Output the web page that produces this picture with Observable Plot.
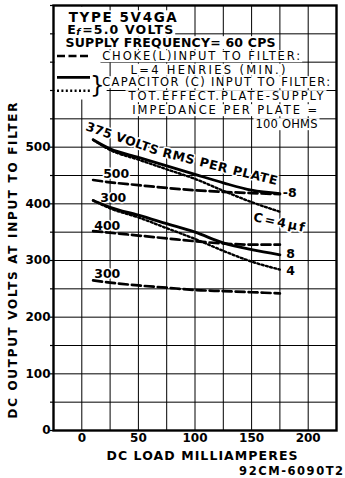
<!DOCTYPE html>
<html><head><meta charset="utf-8">
<script src="https://cdn.jsdelivr.net/npm/d3@7"></script>
<script src="https://cdn.jsdelivr.net/npm/@observablehq/plot@0.6"></script>
<style>
html,body{margin:0;padding:0;background:#fff;}
#chart svg{display:block;background:#fff;}
</style></head><body><div id="chart"></div>
<script>
// ---- data (DC load mA vs DC output volts) ----
const loadMA = [10, 25, 50, 75, 100, 125, 150, 175];
const cap8_375 = [513, 497, 482, 467, 452, 437, 424, 418];
const cap4_375 = [513, 495, 478, 461, 444, 423, 403, 386];
const choke_500 = [442, 438, 433, 428, 424, 421, 419, 417];
const cap8_300 = [406, 394, 380, 365, 350, 331, 319, 310];
const cap4_300 = [406, 392, 376, 357, 338, 317, 298, 284];
const choke_400 = [352, 349, 344, 339, 334, 330, 328, 328];
const choke_300 = [265, 261, 256, 252, 248, 246, 244, 242];

const xTicks = [0, 50, 100, 150, 200];
const yTicks = [0, 100, 200, 300, 400, 500];

// curve annotations (anchored in data units)
const curveLabels = ["375 VOLTS", "RMS PER PLATE", "C=4µf", "500", "300", "400", "300", "-8", "8", "4"];
const curveLabelMA = [35.7, 122, 174.3, 30.4, 27.8, 22.5, 22.5, 177.5, 180.5, 180.5];
const curveLabelV = [515, 465, 367, 453.5, 411, 361.7, 277, 420, 310.6, 280.6];

const legendTitle = ["TYPE 5V4GA", "E", "f", "=5.0 VOLTS", "SUPPLY FREQUENCY= 60 CPS"];
const legendBody = ["CHOKE(L)INPUT TO FILTER:", "L=4 HENRIES (MIN.)", "CAPACITOR (C) INPUT TO FILTER:",
  "TOT.EFFECT.PLATE-SUPPLY", "IMPEDANCE PER PLATE =", "100 OHMS"];

const series = [
  {key: "c8_375", kind: "solid", v: cap8_375},
  {key: "c4_375", kind: "dotted", v: cap4_375},
  {key: "l_500", kind: "dashed", v: choke_500},
  {key: "c8_300", kind: "solid", v: cap8_300},
  {key: "c4_300", kind: "dotted", v: cap4_300},
  {key: "l_400", kind: "dashed", v: choke_400},
  {key: "l_300", kind: "dashed", v: choke_300}
];
const rows = series.flatMap(s => loadMA.map((m, i) => ({key: s.key, kind: s.kind, ma: m, v: s.v[i]})));
const labels = curveLabels.map((t, i) => ({t, ma: curveLabelMA[i], v: curveLabelV[i]}));

const FONT = "'DejaVu Sans', sans-serif";
const W = 345, H = 478, ML = 53, MT = 5, MR = 9, MB = 48;

function lt(str, x, y, size, weight, style) {
  return Plot.text([str], {text: d => d, frameAnchor: "top-left", dx: x - ML, dy: y - MT,
    textAnchor: "start", lineAnchor: "middle", fontSize: size, fontWeight: weight || "normal",
    fontStyle: style || "normal", fill: "black"});
}

const labelStyle = {x: "ma", y: "v", text: "t", fontSize: 12.5, fontWeight: "bold", fill: "black",
  stroke: "white", strokeWidth: 3, paintOrder: "stroke", strokeLinejoin: "round"};

const chart = Plot.plot({
  width: W, height: H,
  marginLeft: ML, marginTop: MT, marginRight: MR, marginBottom: MB,
  style: {fontFamily: FONT, background: "white", color: "black"},
  x: {domain: [-25, 225], axis: null},
  y: {domain: [0, 750], axis: null},
  marks: [
    Plot.gridX(d3.range(0, 201, 25), {stroke: "black", strokeOpacity: 1, strokeWidth: 1}),
    Plot.gridY(d3.range(50, 701, 50), {stroke: "black", strokeOpacity: 1, strokeWidth: 1}),
    // legend text
    lt(legendTitle[0], 68.3, 17.5, 13.5, "bold"),
    lt(legendTitle[1], 66.7, 29.5, 12.5, "bold"),
    lt(legendTitle[2], 75.8, 31.5, 9.5, "bold", "italic"),
    lt(legendTitle[3], 81.7, 29.5, 12.5, "bold"),
    lt(legendTitle[4], 65, 42.7, 12.5, "bold"),
    lt(legendBody[0], 101.7, 56, 11.5),
    lt(legendBody[1], 130, 69.5, 11.5),
    lt(legendBody[2], 101.7, 82, 11.5),
    lt(legendBody[3], 128, 96, 11.5),
    lt(legendBody[4], 131.7, 110, 11.5),
    lt(legendBody[5], 255, 124, 11.5),
    lt("}", 89.5, 85, 23),
    // curve labels
    Plot.text(labels.slice(0, 1), {...labelStyle, rotate: 19}),
    Plot.text(labels.slice(1, 2), {...labelStyle, rotate: 14}),
    Plot.text(labels.slice(2, 3), {...labelStyle, rotate: 12}),
    Plot.text(labels.slice(3, 7), {...labelStyle}),
    Plot.text(labels.slice(7), {...labelStyle, textAnchor: "start"}),
    // curves
    Plot.line(rows.filter(d => d.kind === "dashed"), {x: "ma", y: "v", z: "key", stroke: "black",
      strokeWidth: 2.7, strokeDasharray: "9,4", curve: "monotone-x"}),
    Plot.line(rows.filter(d => d.kind === "dotted"), {x: "ma", y: "v", z: "key", stroke: "black",
      strokeWidth: 2.4, strokeDasharray: "2,2.4", curve: "monotone-x"}),
    Plot.line(rows.filter(d => d.kind === "solid"), {x: "ma", y: "v", z: "key", stroke: "black",
      strokeWidth: 2.8, curve: "monotone-x"}),
    Plot.frame({stroke: "black", strokeWidth: 2.4}),
    // axes
    Plot.axisY(d3.range(0, 751, 50), {tickSize: 3, tickFormat: () => "", label: null, strokeWidth: 1.2}),
    Plot.axisY(yTicks, {tickSize: 0, tickPadding: 3, fontSize: 12, fontWeight: "bold", label: null}),
    Plot.axisX(xTicks, {tickSize: 0, tickPadding: 3, fontSize: 12, fontWeight: "bold", label: null}),
    Plot.text(["DC LOAD MILLIAMPERES"], {text: d => d, frameAnchor: "bottom", dx: 7, dy: 25,
      fontSize: 12.5, fontWeight: "bold", lineAnchor: "middle"}),
    Plot.text(["DC OUTPUT VOLTS AT INPUT TO FILTER"], {text: d => d, frameAnchor: "left", dx: 12.5 - ML, dy: 42.5,
      rotate: -90, fontSize: 12, fontWeight: "bold", textAnchor: "middle", lineAnchor: "middle"}),
    Plot.text(["92CM-6090T2"], {text: d => d, frameAnchor: "bottom-right", dx: 6.6, dy: 41,
      textAnchor: "end", fontSize: 11.5, fontWeight: "bold", lineAnchor: "middle"})
  ]
});
document.getElementById("chart").append(chart);

// stretch lettering to the widths of the original hand lettering
const widths = new Map([
  ["TYPE 5V4GA", 108], ["=5.0 VOLTS", 91], ["SUPPLY FREQUENCY= 60 CPS", 210],
  ["CHOKE(L)INPUT TO FILTER:", 198], ["L=4 HENRIES (MIN.)", 155], ["CAPACITOR (C) INPUT TO FILTER:", 228],
  ["TOT.EFFECT.PLATE-SUPPLY", 195], ["IMPEDANCE PER PLATE =", 185], ["100 OHMS", 62],
  ["DC LOAD MILLIAMPERES", 191], ["DC OUTPUT VOLTS AT INPUT TO FILTER", 316], ["92CM-6090T2", 104],
  ["375 VOLTS", 76], ["RMS PER PLATE", 118], ["C=4µf", 52]
]);
const svg = chart.tagName.toLowerCase() === "svg" ? chart : chart.querySelector("svg");
svg.querySelectorAll("text").forEach(t => {
  const w = widths.get(t.textContent);
  if (w) { t.setAttribute("textLength", w); t.setAttribute("lengthAdjust", "spacing"); }
});

// white knock-out boxes behind the legend block
const legendSet = new Set([...legendTitle, ...legendBody, "}"]);
const NS = "http://www.w3.org/2000/svg";
const legendTexts = [...svg.querySelectorAll("text")].filter(t => legendSet.has(t.textContent));
const knock = document.createElementNS(NS, "g");
const svgBox = svg.getBoundingClientRect();
legendTexts.forEach(t => {
  const b = t.getBoundingClientRect();
  const r = document.createElementNS(NS, "rect");
  r.setAttribute("x", b.left - svgBox.left - 2);
  r.setAttribute("y", b.top - svgBox.top + 1);
  r.setAttribute("width", b.width + 4);
  r.setAttribute("height", Math.max(0, b.height - 2));
  r.setAttribute("fill", "white");
  knock.appendChild(r);
});
// legend key samples, laid out relative to the frame corner
const keyX1 = ML + 4, keyX2 = ML + 37;
const bg = document.createElementNS(NS, "rect");
bg.setAttribute("x", ML + 1.5); bg.setAttribute("y", MT + 1.5);
bg.setAttribute("width", 46); bg.setAttribute("height", 93);
bg.setAttribute("fill", "white");
knock.appendChild(bg);
[[MT + 51, "8,3.5", 2.7], [MT + 72.3, null, 2.8], [MT + 85.7, "2,2.4", 2.4]].forEach(([y, dash, w]) => {
  const l = document.createElementNS(NS, "line");
  l.setAttribute("x1", keyX1); l.setAttribute("x2", keyX2);
  l.setAttribute("y1", y); l.setAttribute("y2", y);
  l.setAttribute("stroke", "black"); l.setAttribute("stroke-width", w);
  if (dash) l.setAttribute("stroke-dasharray", dash);
  knock.appendChild(l);
});
const firstLegendGroup = legendTexts[0].parentNode;
firstLegendGroup.parentNode.insertBefore(knock, firstLegendGroup);
</script></body></html>
